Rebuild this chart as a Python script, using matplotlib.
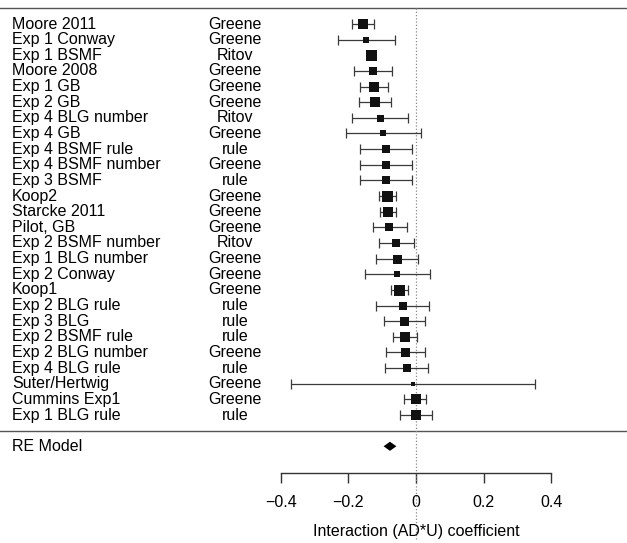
import matplotlib
matplotlib.use('Agg')
import matplotlib.pyplot as plt
import numpy as np

plt.rcParams['font.family'] = ['Liberation Sans', 'DejaVu Sans']

# Data (baca dari gambar)
studies = ['Moore 2011', 'Exp 1 Conway', 'Exp 1 BSMF', 'Moore 2008', 'Exp 1 GB',
           'Exp 2 GB', 'Exp 4 BLG number', 'Exp 4 GB', 'Exp 4 BSMF rule',
           'Exp 4 BSMF number', 'Exp 3 BSMF', 'Koop2', 'Starcke 2011', 'Pilot, GB',
           'Exp 2 BSMF number', 'Exp 1 BLG number', 'Exp 2 Conway', 'Koop1',
           'Exp 2 BLG rule', 'Exp 3 BLG', 'Exp 2 BSMF rule', 'Exp 2 BLG number',
           'Exp 4 BLG rule', 'Suter/Hertwig', 'Cummins Exp1', 'Exp 1 BLG rule']
groups = ['Greene', 'Greene', 'Ritov', 'Greene', 'Greene', 'Greene', 'Ritov',
          'Greene', 'rule', 'Greene', 'rule', 'Greene', 'Greene', 'Greene',
          'Ritov', 'Greene', 'Greene', 'Greene', 'rule', 'rule', 'rule',
          'Greene', 'rule', 'Greene', 'Greene', 'rule']
estimate = [-0.157, -0.147, -0.132, -0.126, -0.125, -0.121, -0.106, -0.098,
            -0.089, -0.089, -0.089, -0.085, -0.084, -0.079, -0.058, -0.055,
            -0.055, -0.049, -0.039, -0.035, -0.033, -0.032, -0.027, -0.009,
            -0.001, 0.000]
ci_low = [-0.189, -0.232, -0.142, -0.182, -0.166, -0.168, -0.188, -0.208,
          -0.166, -0.166, -0.165, -0.110, -0.106, -0.128, -0.109, -0.118,
          -0.152, -0.074, -0.117, -0.096, -0.069, -0.090, -0.091, -0.370,
          -0.035, -0.048]
ci_high = [-0.124, -0.063, -0.122, -0.071, -0.082, -0.073, -0.023, 0.015,
           -0.012, -0.012, -0.013, -0.060, -0.059, -0.028, -0.007, 0.007,
           0.042, -0.023, 0.039, 0.026, 0.003, 0.028, 0.035, 0.352,
           0.031, 0.046]
# bobot relatif (menentukan ukuran kotak)
weights = [9.3, 6.3, 11, 8.7, 10, 10, 7, 5.7, 8, 8, 8, 11, 10.7, 8.7, 8.7, 9,
           6.7, 11, 7.7, 9, 10, 9, 8, 4, 10, 10]

re_est = -0.077
re_low = -0.096
re_high = -0.058

xticks = [-0.4, -0.2, 0, 0.2, 0.4]
xtick_labels = ['\u22120.4', '\u22120.2', '0', '0.2', '0.4']
xlabel = 'Interaction (AD*U) coefficient'

# Plot
fig = plt.figure(figsize=(6.27, 5.43), dpi=100)
ax = fig.add_axes([0, 0, 1, 1])
ax.set_xlim(-416 / 338, 211 / 338)
ax.set_ylim(-7.184, 27.535)

k = len(studies)
rows = np.arange(k, 0, -1)
fs = 11.5
lc = '#3a3a3a'

# garis horizontal atas & bawah
ax.axhline(k + 1, color='#555555', lw=1.0)
ax.axhline(0, color='#555555', lw=1.0)

# garis referensi di 0
ax.plot([0, 0], [k + 1, -6.9], color='#888888', lw=0.9, ls=(0, (1, 1.6)))

# error bar + kotak
for i in range(k):
    ax.errorbar(estimate[i], rows[i],
                xerr=[[estimate[i] - ci_low[i]], [ci_high[i] - estimate[i]]],
                fmt='none', ecolor=lc, elinewidth=0.9, capsize=3.6,
                capthick=0.9)
    ax.plot(estimate[i], rows[i], 's', color='#111111',
            markersize=weights[i] * 0.72, markeredgewidth=0)

# label studi
for i in range(k):
    ax.text(-1.195, rows[i], studies[i], ha='left', va='center', fontsize=fs)
    ax.text(-0.536, rows[i], groups[i], ha='center', va='center', fontsize=fs)

# RE model (diamond)
h = 0.29
ax.fill([re_low, re_est, re_high, re_est], [-1, -1 + h, -1, -1 - h],
        color='black', lw=0)
ax.text(-1.195, -1, 'RE Model', ha='left', va='center', fontsize=fs)

# sumbu x
for s in ['top', 'right', 'left']:
    ax.spines[s].set_visible(False)
ax.spines['bottom'].set_position(('data', -2.71))
ax.spines['bottom'].set_bounds(-0.4, 0.4)
ax.spines['bottom'].set_color('#333333')
ax.spines['bottom'].set_linewidth(1.0)
ax.set_yticks([])
ax.set_xticks(xticks)
ax.set_xticklabels(xtick_labels, fontsize=fs)
ax.tick_params(axis='x', direction='out', length=7.2, width=1.0,
               color='#333333', pad=8.5)
ax.text(0, -6.48, xlabel, ha='center', va='center', fontsize=fs)

plt.savefig('out.png', dpi=100)
